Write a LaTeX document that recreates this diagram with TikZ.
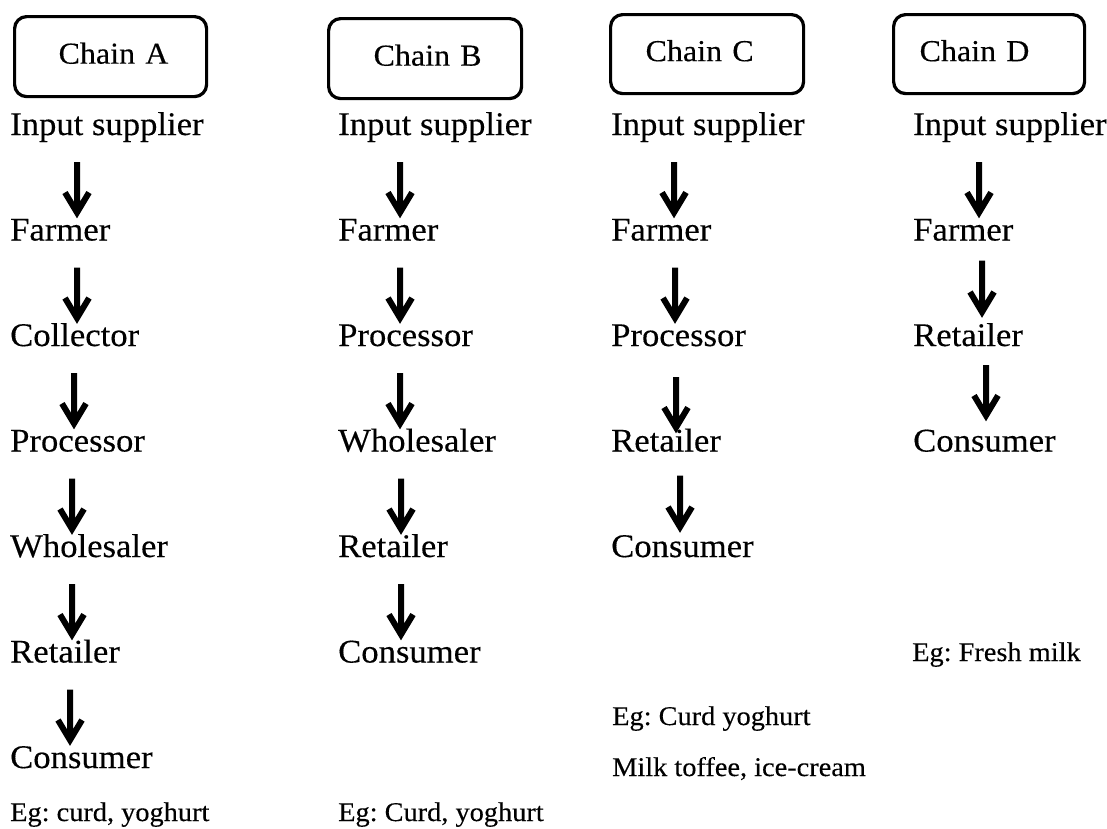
\documentclass[tikz,border=0pt]{standalone}
\usepackage{fontspec}
\setmainfont[FakeStretch=1.05,FakeBold=0.3]{Liberation Serif}
\usetikzlibrary{calc}
\frenchspacing
\newcommand\mainsz{\fontsize{33}{40}\selectfont}
\newcommand\titlesz{\fontsize{30.5}{36}\selectfont}
\newcommand\egsz{\fontsize{27}{33}\selectfont}
\tikzset{
  lbl/.style={font=\mainsz, inner sep=0pt, anchor=base west},
  eglbl/.style={font=\egsz, inner sep=0pt, anchor=base west},
  chainbox/.style={draw, line width=3.2pt, rounded corners=12pt, anchor=north west,
    minimum height=80pt, font=\titlesz, align=left, inner sep=0pt, text depth=7pt},
  flowarrow/.style={line width=6pt, line join=miter,
    to path={(\tikztostart) -- (\tikztotarget) ++(-12,-20) -- (\tikztotarget) -- ++(12,-20)}}
}
\begin{document}
\begin{tikzpicture}[x=1pt,y=-1pt]
\useasboundingbox (0,0) rectangle (1107,828);
% title boxes
\node[chainbox, text width=192pt] (ta) at (13,15) {\hspace*{44pt}Chain A};
\node[chainbox, text width=193pt] (tb) at (327,17) {\hspace*{45pt}Chain B};
\node[chainbox, text width=193pt, minimum height=79pt] (tc) at (609,13) {\hspace*{35pt}Chain C};
\node[chainbox, text width=191pt, minimum height=79pt] (td) at (892,13) {\hspace*{26pt}Chain D};
% chain A
\node[lbl] (a1) at (10,135) {Input supplier};
\node[lbl] (a2) at (10,240.5) {Farmer};
\node[lbl] (a3) at (10,346) {Collector};
\node[lbl] (a4) at (10,451.5) {Processor};
\node[lbl] (a5) at (10,557) {Wholesaler};
\node[lbl] (a6) at (10,662.5) {Retailer};
\node[lbl] (a7) at (10,768) {Consumer};
\node[eglbl] (aeg) at (10,821) {Eg: curd, yoghurt};
% chain B
\node[lbl] (b1) at (338,135) {Input supplier};
\node[lbl] (b2) at (338,240.5) {Farmer};
\node[lbl] (b3) at (338,346) {Processor};
\node[lbl] (b4) at (338,451.5) {Wholesaler};
\node[lbl] (b5) at (338,557) {Retailer};
\node[lbl] (b6) at (338,662.5) {Consumer};
\node[eglbl] (beg) at (338,821) {Eg: Curd, yoghurt};
% chain C
\node[lbl] (c1) at (611,135) {Input supplier};
\node[lbl] (c2) at (611,240.5) {Farmer};
\node[lbl] (c3) at (611,346) {Processor};
\node[lbl] (c4) at (611,451.5) {Retailer};
\node[lbl] (c5) at (611,557) {Consumer};
\node[eglbl] (ceg) at (612,725) {Eg: Curd yoghurt};
\node[eglbl] (ceg2) at (612,776) {Milk toffee, ice-cream};
% chain D
\node[lbl] (d1) at (913,135) {Input supplier};
\node[lbl] (d2) at (913,240.5) {Farmer};
\node[lbl] (d3) at (913,346) {Retailer};
\node[lbl] (d4) at (913,451.5) {Consumer};
\node[eglbl] (deg) at (912,661) {Eg: Fresh milk};
% arrows A
\draw[flowarrow] ($(a1.base west)+(67,27)$) to ($(a2.base west)+(67,-28)$);
\draw[flowarrow] ($(a2.base west)+(67,27)$) to ($(a3.base west)+(67,-28)$);
\draw[flowarrow] ($(a3.base west)+(64,27)$) to ($(a4.base west)+(64,-28)$);
\draw[flowarrow] ($(a4.base west)+(62,27)$) to ($(a5.base west)+(62,-28)$);
\draw[flowarrow] ($(a5.base west)+(62,27)$) to ($(a6.base west)+(62,-28)$);
\draw[flowarrow] ($(a6.base west)+(60,27)$) to ($(a7.base west)+(60,-28)$);
% arrows B
\draw[flowarrow] ($(b1.base west)+(62,27)$) to ($(b2.base west)+(62,-28)$);
\draw[flowarrow] ($(b2.base west)+(62,27)$) to ($(b3.base west)+(62,-28)$);
\draw[flowarrow] ($(b3.base west)+(62,27)$) to ($(b4.base west)+(62,-28)$);
\draw[flowarrow] ($(b4.base west)+(63,27)$) to ($(b5.base west)+(63,-28)$);
\draw[flowarrow] ($(b5.base west)+(63,27)$) to ($(b6.base west)+(63,-28)$);
% arrows C
\draw[flowarrow] ($(c1.base west)+(63,27)$) to ($(c2.base west)+(63,-28)$);
\draw[flowarrow] ($(c2.base west)+(64,27)$) to ($(c3.base west)+(64,-28)$);
\draw[flowarrow] ($(c3.base west)+(65,31)$) to ($(c4.base west)+(65,-24)$);
\draw[flowarrow] ($(c4.base west)+(69,24)$) to ($(c5.base west)+(69,-30)$);
% arrows D
\draw[flowarrow] ($(d1.base west)+(66,27)$) to ($(d2.base west)+(66,-28)$);
\draw[flowarrow] ($(d2.base west)+(69,20)$) to ($(d3.base west)+(69,-34)$);
\draw[flowarrow] ($(d3.base west)+(73,19)$) to ($(d4.base west)+(73,-36)$);
\end{tikzpicture}
\end{document}
